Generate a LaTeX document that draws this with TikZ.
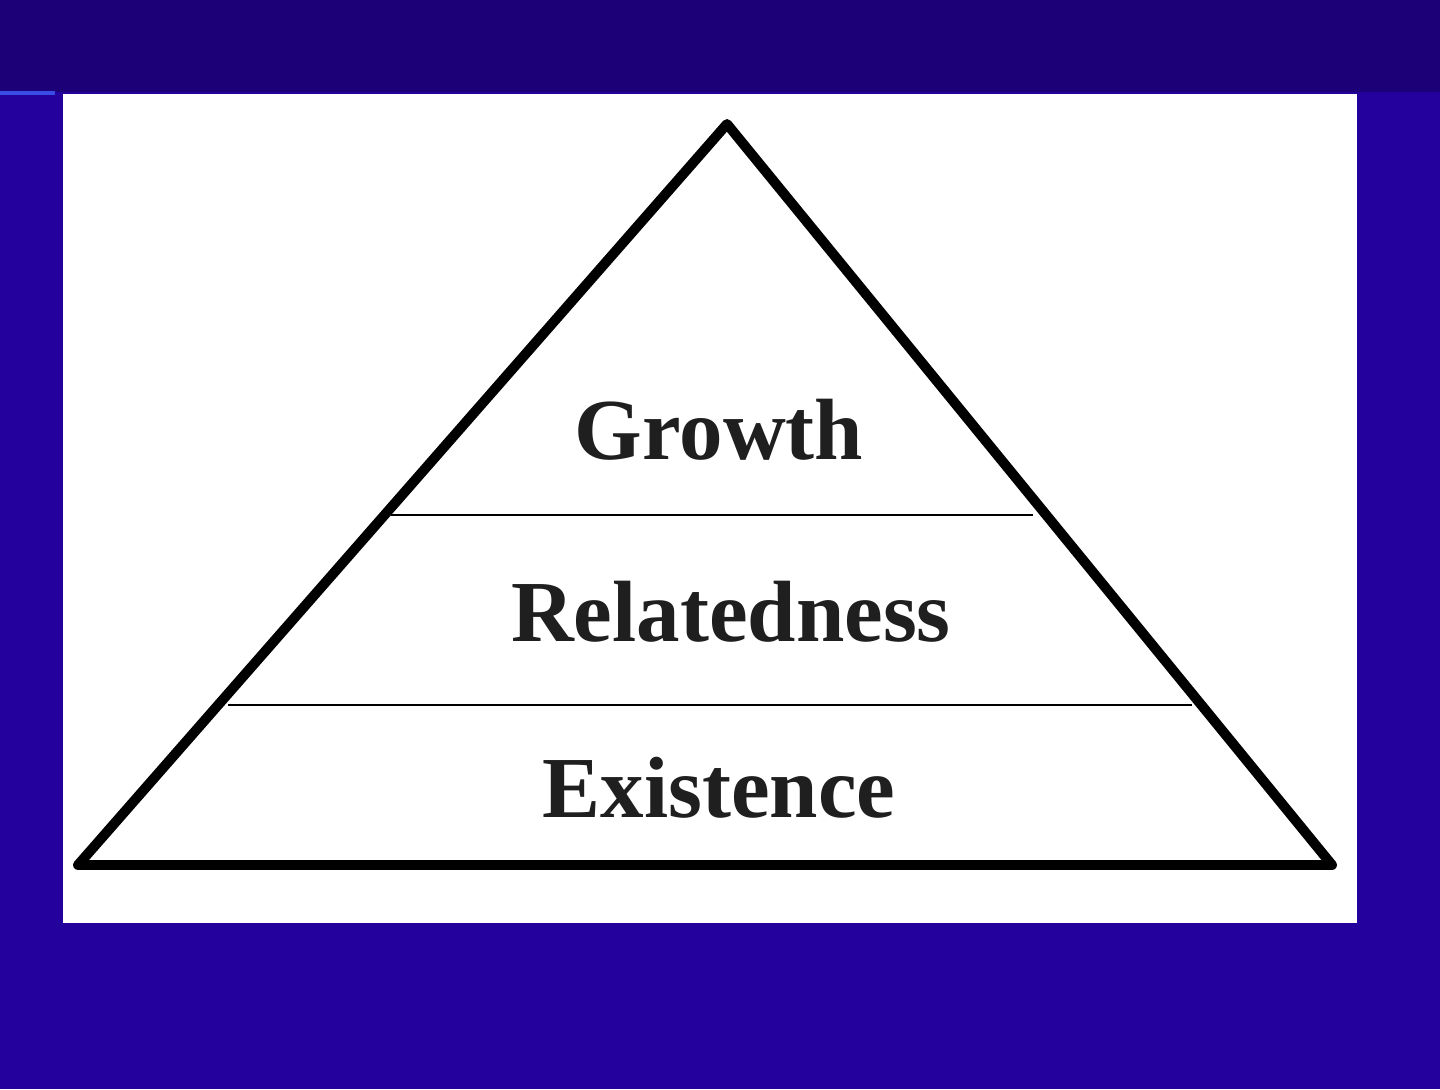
\documentclass[tikz,border=0pt]{standalone}
\usepackage{fontspec}
\setmainfont{Liberation Serif}
\definecolor{topband}{HTML}{1C0078}
\definecolor{bodyblue}{HTML}{24009C}
\definecolor{edgeblue}{HTML}{3A4BE6}
\tikzset{
  outline/.style={line width=10pt*0.02/0.0352778, line join=round, line cap=round},
  divider/.style={line width=1.6pt},
  tier/.style={font=\fontsize{49.5}{57}\selectfont\bfseries, text=black!88, inner sep=0pt}
}
\begin{document}
\begin{tikzpicture}[x=0.02cm,y=-0.02cm]
\useasboundingbox (0,0) rectangle (1440,1089);
\fill[bodyblue] (0,0) rectangle (1440,1089);
\fill[topband] (0,0) rectangle (1440,92);
\fill[edgeblue] (0,91) rectangle (55,95);
\fill[white] (63,94) rectangle (1357,923);
\coordinate (apex) at (727,124);
\coordinate (bl) at (78,865);
\coordinate (br) at (1332,865);
\draw[divider] (391,515) -- (1033,515);
\draw[divider] (228,705) -- (1192,705);
\draw[outline] (apex) -- (br) -- (bl) -- cycle;
\node[tier] (growth) at (719,430) {Growth};
\node[tier] (related) at (731,612) {Relatedness};
\node[tier] (exist) at (719,788) {Existence};
\end{tikzpicture}
\end{document}
